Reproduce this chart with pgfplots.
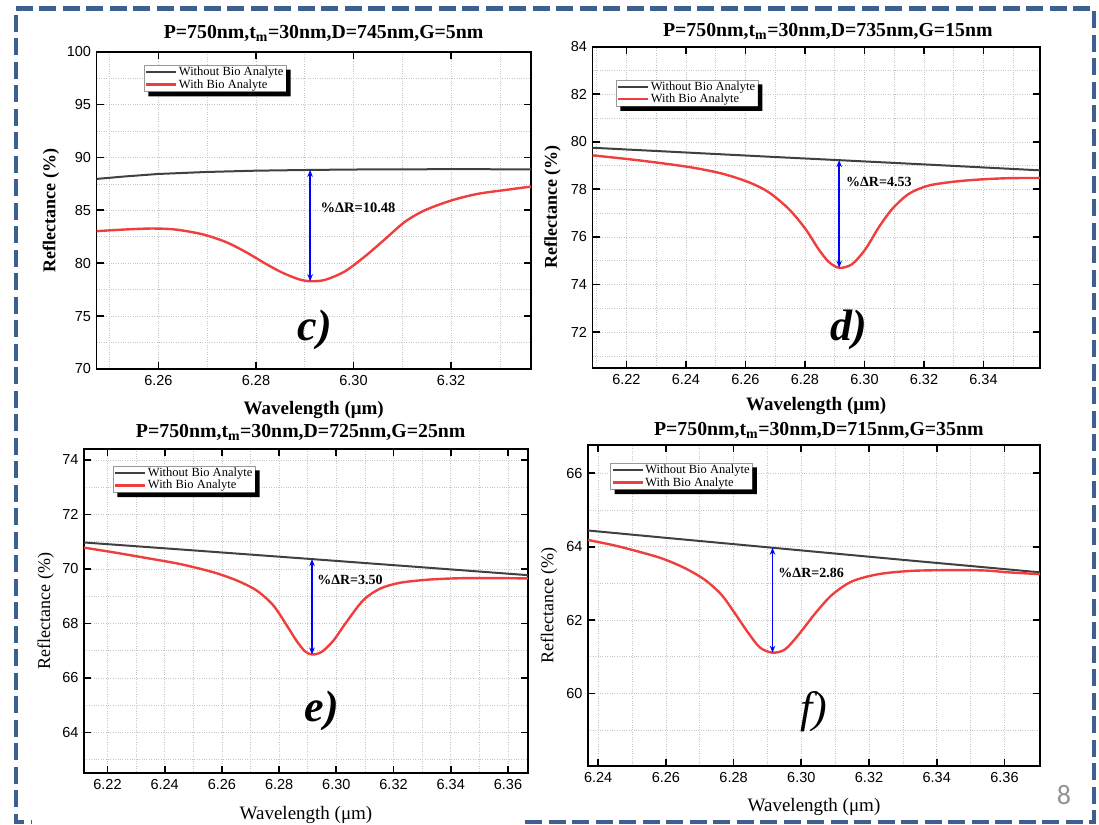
\documentclass[border=0pt]{standalone}
\usepackage{pgfplots}
\pgfplotsset{compat=1.18}
\usepackage{fontspec}
\setmainfont{Liberation Serif}
\setsansfont{Liberation Sans}
\newfontfamily\calibri{Carlito}
\usetikzlibrary{arrows.meta}
\definecolor{curveblack}{RGB}{64,64,64}
\definecolor{curvered}{RGB}{240,62,62}
\definecolor{borderblue}{RGB}{62,96,145}
\pgfplotsset{
 panel/.style={
  scale only axis, anchor=south west,
  axis line style={line width=1.8pt},
  tick align=inside, major tick length=7pt, minor tick length=0pt,
  tick style={line width=1.8pt, black},
  grid=both,
  major grid style={dotted, gray!45, line width=0.6pt},
  minor grid style={dotted, gray!45, line width=0.6pt},
  tick label style={font=\sffamily\fontsize{14.5}{14.5}\selectfont},
  /pgf/number format/assume math mode=true,
  xticklabel style={yshift=-3pt,/pgf/number format/fixed,/pgf/number format/fixed zerofill,/pgf/number format/precision=2},
  yticklabel style={xshift=-2pt,/pgf/number format/fixed,/pgf/number format/precision=0},
  legend cell align=left,
  legend image code/.code={\draw[#1] (0pt,0pt) -- (30pt,0pt);},
  legend style={font=\fontsize{12.5}{13}\selectfont, draw=gray!80, fill=white,
    inner xsep=1pt, inner ysep=0.5pt, row sep=-1pt, anchor=north west,
    nodes={inner sep=1.5pt}},
  xlabel style={at={(axis description cs:0.5,0)}, anchor=center},
  ylabel style={at={(axis description cs:0,0.5)}, anchor=center},
 },
 blk/.style={curveblack, line width=2pt},
 rd/.style={curvered, line width=2.4pt, smooth, tension=0.5},
 arr/.style={blue, line width=1.4pt, {Stealth[length=7pt,width=5.5pt]}-{Stealth[length=7pt,width=5.5pt]}},
 boldlabels/.style={
  xlabel style={font=\bfseries\fontsize{19}{19}\selectfont},
  ylabel style={font=\bfseries\fontsize{18}{18}\selectfont}},
 reglabels/.style={
  xlabel style={font=\fontsize{19}{19}\selectfont},
  ylabel style={font=\fontsize{18}{18}\selectfont}},
}
\newcommand{\legshadow}[1]{%
  \fill[black] ([shift={(0pt,-4.5pt)}]#1.north east) -- ([shift={(4.5pt,-4.5pt)}]#1.north east)
   -- ([shift={(4.5pt,-4.5pt)}]#1.south east) -- ([shift={(4.5pt,-4.5pt)}]#1.south west)
   -- ([shift={(4.5pt,0pt)}]#1.south west) -- (#1.south east) -- cycle;}
\begin{document}
\begin{tikzpicture}
\path[use as bounding box] (0pt,0pt) rectangle (1099pt,824pt);
% slide border
\draw[borderblue, line width=4.5pt, dash pattern=on 17pt off 6.5pt]
  (525pt,1.8pt) -- (1094pt,1.8pt) -- (1094pt,815.7pt) -- (15.8pt,815.7pt) -- (15.8pt,1.8pt) -- (32pt,1.8pt);

% ---------- panel c ----------
\begin{axis}[panel, boldlabels, at={(96.5pt,455pt)}, width=434.5pt, height=317.3pt,
  xmin=6.2473, xmax=6.3364, ymin=70, ymax=100,
  xtick={6.26,6.28,6.30,6.32}, minor xtick={6.25,6.27,6.29,6.31,6.33},
  ytick={70,75,80,85,90,95,100}, minor ytick={72.5,77.5,82.5,87.5,92.5,97.5},
  xlabel={Wavelength (μm)}, ylabel={Reflectance (\%)},
  xlabel style={yshift=-41pt},
  ylabel style={yshift=45.5pt},
  legend style={at={(axis description cs:0.109,0.958)}, name=legC}]
\addplot[blk] coordinates {(6.2473,87.97) (6.2530,88.2) (6.2600,88.44) (6.2700,88.63) (6.2800,88.75) (6.2911,88.82) (6.3000,88.86) (6.3100,88.88) (6.3200,88.89) (6.3364,88.88)};
\addlegendentry{Without Bio Analyte}
\addplot[rd] coordinates {(6.2473,83.03) (6.2532,83.19) (6.2586,83.28) (6.2634,83.19) (6.2689,82.75) (6.2737,82.03) (6.2778,81.09) (6.2818,80.0) (6.2853,79.13) (6.2887,78.5) (6.2911,78.3) (6.2941,78.42) (6.2982,79.22) (6.3023,80.63) (6.3064,82.25) (6.3105,83.9) (6.3146,85.0) (6.3201,85.94) (6.3255,86.56) (6.3314,86.94) (6.3364,87.25)};
\addlegendentry{With Bio Analyte}
\addplot[arr, forget plot] coordinates {(6.2911,78.3) (6.2911,88.82)};
\node[anchor=west, font=\bfseries\fontsize{14.5}{14.5}\selectfont, inner sep=0pt] at (axis cs:6.2932,85.2) {\%ΔR=10.48};
\end{axis}
\legshadow{legC}

% ---------- panel d ----------
\begin{axis}[panel, boldlabels, at={(592.5pt,456.3pt)}, width=447.5pt, height=321pt,
  xmin=6.2086, xmax=6.359, ymin=70.5, ymax=84,
  xtick={6.22,6.24,6.26,6.28,6.30,6.32,6.34}, minor xtick={6.21,6.23,6.25,6.27,6.29,6.31,6.33,6.35},
  ytick={72,74,76,78,80,82,84}, minor ytick={71,73,75,77,79,81,83},
  xlabel={Wavelength (μm)}, ylabel={Reflectance (\%)},
  xlabel style={yshift=-38.7pt},
  ylabel style={yshift=40pt},
  legend style={at={(axis description cs:0.052,0.897)}, name=legD}]
\addplot[blk] coordinates {(6.2086,79.75) (6.24,79.55) (6.27,79.36) (6.2911,79.23) (6.32,79.05) (6.359,78.80)};
\addlegendentry{Without Bio Analyte}
\addplot[rd] coordinates {(6.2086,79.43) (6.2242,79.22) (6.241,78.94) (6.2522,78.66) (6.2611,78.30) (6.2678,77.88) (6.2746,77.17) (6.2802,76.33) (6.2846,75.48) (6.288,74.95) (6.2915,74.70) (6.2958,74.85) (6.3003,75.48) (6.3048,76.4) (6.3093,77.17) (6.3149,77.81) (6.3216,78.16) (6.3306,78.33) (6.3395,78.42) (6.3485,78.47) (6.359,78.48)};
\addlegendentry{With Bio Analyte}
\addplot[arr, forget plot] coordinates {(6.2915,74.70) (6.2915,79.23)};
\node[anchor=west, font=\bfseries\fontsize{14}{14}\selectfont, inner sep=0pt] at (axis cs:6.2938,78.3) {\%ΔR=4.53};
\end{axis}
\legshadow{legD}

% ---------- panel e ----------
\begin{axis}[panel, reglabels, at={(84pt,50.7pt)}, width=444pt, height=324.3pt,
  xmin=6.2118, xmax=6.367, ymin=62.5, ymax=74.4,
  xtick={6.22,6.24,6.26,6.28,6.30,6.32,6.34,6.36}, minor xtick={6.23,6.25,6.27,6.29,6.31,6.33,6.35},
  ytick={64,66,68,70,72,74}, minor ytick={63,65,67,69,71,73},
  xlabel={Wavelength (μm)}, ylabel={Reflectance (\%)},
  xlabel style={yshift=-41.7pt},
  ylabel style={yshift=38.4pt},
  legend style={at={(axis description cs:0.065,0.948)}, name=legE}]
\addplot[blk] coordinates {(6.2118,70.97) (6.25,70.68) (6.2915,70.36) (6.33,70.06) (6.367,69.77)};
\addlegendentry{Without Bio Analyte}
\addplot[rd] coordinates {(6.2118,70.78) (6.222,70.61) (6.2336,70.40) (6.2453,70.18) (6.2569,69.88) (6.2651,69.58) (6.2721,69.21) (6.2779,68.67) (6.2826,67.94) (6.2861,67.36) (6.289,66.98) (6.2915,66.86) (6.2948,66.95) (6.2989,67.36) (6.3036,68.06) (6.3094,68.85) (6.3152,69.27) (6.3222,69.49) (6.3327,69.61) (6.3443,69.66) (6.3582,69.66) (6.367,69.65)};
\addlegendentry{With Bio Analyte}
\addplot[arr, forget plot] coordinates {(6.2915,66.86) (6.2915,70.36)};
\node[anchor=west, font=\bfseries\fontsize{14}{14}\selectfont, inner sep=0pt] at (axis cs:6.2933,69.6) {\%ΔR=3.50};
\end{axis}
\legshadow{legE}

% ---------- panel f ----------
\begin{axis}[panel, reglabels, at={(588pt,58.3pt)}, width=452pt, height=320.7pt,
  xmin=6.2370, xmax=6.3705, ymin=58.03, ymax=66.77,
  xtick={6.24,6.26,6.28,6.30,6.32,6.34,6.36}, minor xtick={6.25,6.27,6.29,6.31,6.33,6.35},
  ytick={60,62,64,66}, minor ytick={59,61,63,65},
  xlabel={Wavelength (μm)}, ylabel={Reflectance (\%)},
  xlabel style={yshift=-41pt},
  ylabel style={yshift=39pt},
  legend style={at={(axis description cs:0.049,0.944)}, name=legF}]
\addplot[blk] coordinates {(6.2370,64.44) (6.26,64.24) (6.2915,63.97) (6.33,63.64) (6.3705,63.30)};
\addlegendentry{Without Bio Analyte}
\addplot[rd] coordinates {(6.2370,64.18) (6.244,64.05) (6.2509,63.89) (6.2588,63.68) (6.2657,63.41) (6.2716,63.09) (6.2765,62.68) (6.2804,62.18) (6.2844,61.64) (6.2878,61.25) (6.2915,61.11) (6.2952,61.2) (6.2991,61.59) (6.3041,62.18) (6.309,62.68) (6.3149,63.05) (6.3228,63.25) (6.3326,63.34) (6.3445,63.36) (6.3543,63.35) (6.3611,63.30) (6.3705,63.25)};
\addlegendentry{With Bio Analyte}
\addplot[arr, forget plot] coordinates {(6.2915,61.11) (6.2915,63.97)};
\node[anchor=west, font=\bfseries\fontsize{14}{14}\selectfont, inner sep=0pt] at (axis cs:6.2932,63.27) {\%ΔR=2.86};
\end{axis}
\legshadow{legF}

% titles
\node[font=\bfseries\fontsize{19.8}{19.8}\selectfont] at (323.6pt,791pt) {P=750nm,t\textsubscript{m}=30nm,D=745nm,G=5nm};
\node[font=\bfseries\fontsize{19.8}{19.8}\selectfont] at (827.8pt,792.3pt) {P=750nm,t\textsubscript{m}=30nm,D=735nm,G=15nm};
\node[font=\bfseries\fontsize{19.8}{19.8}\selectfont] at (300.7pt,391.3pt) {P=750nm,t\textsubscript{m}=30nm,D=725nm,G=25nm};
\node[font=\bfseries\fontsize{19.8}{19.8}\selectfont] at (818.8pt,394pt) {P=750nm,t\textsubscript{m}=30nm,D=715nm,G=35nm};
% panel letters
\node[font=\bfseries\itshape\fontsize{44}{44}\selectfont] at (315pt,494pt) {c)};
\node[font=\bfseries\itshape\fontsize{44}{44}\selectfont] at (849pt,494pt) {d)};
\node[font=\bfseries\itshape\fontsize{44}{44}\selectfont] at (322pt,113pt) {e)};
\node[font=\itshape\fontsize{44}{44}\selectfont] at (813.5pt,112pt) {f)};
% page number
\node[font=\calibri\fontsize{28}{28}\selectfont, text=gray!85] at (1064pt,29pt) {8};
\end{tikzpicture}
\end{document}
